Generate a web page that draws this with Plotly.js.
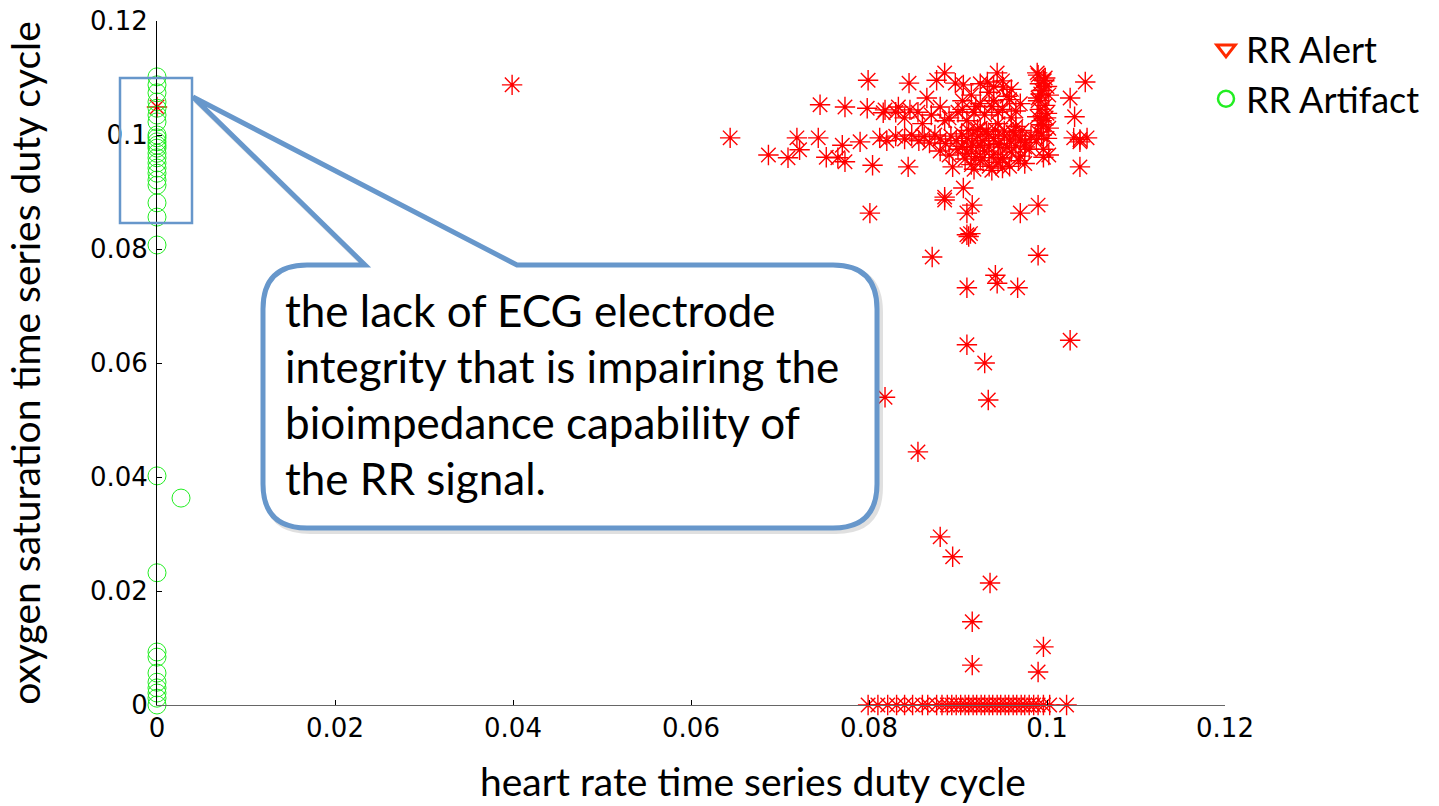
<!DOCTYPE html>
<html>
<head>
<meta charset="utf-8">
<script src="https://cdn.plot.ly/plotly-3.0.1.min.js"></script>
<style>html,body{margin:0;padding:0;background:#fff;}#chart{width:1439px;height:806px;}</style>
</head>
<body>
<div id="chart"></div>
<script>
// ---- data ----
const tickVals = [0, 0.02, 0.04, 0.06, 0.08, 0.1, 0.12];
const tickText = ['0', '0.02', '0.04', '0.06', '0.08', '0.1', '0.12'];

// RR Alert (red asterisks)
const alertX = [
  0, 0.0399, 0.0644, 0.0687, 0.0709, 0.0719, 0.0722, 0.0743, 0.0745, 0.0752,
  0.0765, 0.0773, 0.0770, 0.0790, 0.0773, 0.0798, 0.0799, 0.0804, 0.0816, 0.0818,
  0.0833, 0.0846, 0.0845, 0.0844, 0.0865, 0.0876, 0.0885, 0.0880, 0.0897, 0.0906,
  0.0933, 0.0944, 0.0951, 0.0989, 0.0996, 0.0990, 0.0989, 0.0996, 0.1043, 0.1026,
  0.1031, 0.1037, 0.1037, 0.0996, 0.0906, 0.0885,
  // band near 0.0995
  0.0812, 0.0820, 0.0830, 0.0840, 0.0848, 0.0856, 0.0862, 0.0868, 0.0874, 0.0880,
  0.0886, 0.0892, 0.0898, 0.0904, 0.0910, 0.0916, 0.0922, 0.0928, 0.0934, 0.0940,
  0.0946, 0.0952, 0.0958, 0.0964, 0.0970, 0.0976, 0.0982, 0.0988, 0.0994, 0.1000,
  // lower band
  0.0880, 0.0890, 0.0900, 0.0910, 0.0920, 0.0930, 0.0940, 0.0950, 0.0960, 0.0970,
  0.0980, 0.0925, 0.0945, 0.0935, 0.0915,
  // upper block
  0.0890, 0.0900, 0.0910, 0.0920, 0.0930, 0.0940, 0.0950, 0.0960, 0.0970, 0.0915,
  0.0935, 0.0955, 0.0945, 0.0925, 0.0965, 0.0905, 0.0960, 0.0950, 0.0940, 0.0925,
  // dense centre
  0.0905, 0.0915, 0.0925, 0.0935, 0.0945, 0.0955, 0.0965, 0.0975, 0.0912, 0.0922,
  0.0932, 0.0942, 0.0952, 0.0962, 0.0972, 0.0908, 0.0928, 0.0948, 0.0968, 0.0938,
  0.0958, 0.0905, 0.0925, 0.0945, 0.0965, 0.0958, 0.0938, 0.0918,
  // column near 0.1
  0.0990, 0.0998, 0.0992, 0.1000, 0.0994, 0.1002, 0.0990, 0.0998, 0.0992, 0.1000,
  0.0994, 0.1002, 0.0990, 0.0996, 0.1002, 0.0997, 0.0993, 0.0999, 0.0993,
  // upper left of cluster
  0.0830, 0.0840, 0.0855, 0.0870, 0.0860, 0.0885,
  // right side
  0.1030, 0.1037, 0.1045,
  // bottom of cluster
  0.0894, 0.0918, 0.0950, 0.0975,
  // scattered middle
  0.0801, 0.0885, 0.0916, 0.0910, 0.0970, 0.0990, 0.0910, 0.0912, 0.0914, 0.0871,
  0.0990, 0.0942, 0.0944, 0.0967, 0.0910, 0.1026, 0.0910, 0.0930, 0.0818, 0.0934,
  0.0855, 0.0880, 0.0894, 0.0936, 0.0916, 0.0996, 0.0916, 0.0990,
  // zero row
  0.0799, 0.0810, 0.0821, 0.0831, 0.0840, 0.0849, 0.0860, 0.0866, 0.0876, 0.0882,
  0.0888, 0.0893, 0.0898, 0.0903, 0.0908, 0.0912, 0.0917, 0.0921, 0.0926, 0.0930,
  0.0935, 0.0939, 0.0944, 0.0948, 0.0953, 0.0957, 0.0962, 0.0966, 0.0971, 0.0975,
  0.0980, 0.0985, 0.0990, 0.0996, 0.1003, 0.1022
];
const alertY = [
  0.1049, 0.1088, 0.0995, 0.0965, 0.0960, 0.0995, 0.0974, 0.0995, 0.1053, 0.0961,
  0.0960, 0.1049, 0.0982, 0.0988, 0.0953, 0.1047, 0.1096, 0.0947, 0.1039, 0.1044,
  0.1049, 0.1044, 0.1091, 0.0944, 0.1065, 0.1096, 0.1109, 0.1049, 0.1091, 0.1088,
  0.1093, 0.1109, 0.1084, 0.1109, 0.1096, 0.1065, 0.1032, 0.1018, 0.1093, 0.1065,
  0.1032, 0.0988, 0.0944, 0.0961, 0.0907, 0.0891,
  0.0995, 0.0990, 0.0998, 0.0993, 0.1000, 0.0990, 0.0997, 0.0986, 0.1000, 0.0993,
  0.0985, 0.0998, 0.0990, 0.1002, 0.0994, 0.0986, 0.0998, 0.0990, 0.1001, 0.0994,
  0.0985, 0.0998, 0.0991, 0.1000, 0.0993, 0.0987, 0.0998, 0.0992, 0.1000, 0.0994,
  0.0972, 0.0965, 0.0975, 0.0968, 0.0962, 0.0972, 0.0966, 0.0960, 0.0970, 0.0963,
  0.0975, 0.0955, 0.0952, 0.0945, 0.0948,
  0.1030, 0.1040, 0.1025, 0.1050, 0.1035, 0.1060, 0.1045, 0.1030, 0.1055, 0.1070,
  0.1075, 0.1068, 0.1020, 0.1012, 0.1015, 0.1060, 0.1080, 0.1095, 0.1085, 0.1090,
  0.0980, 0.0978, 0.0982, 0.0979, 0.0983, 0.0978, 0.0981, 0.0979, 0.1008, 0.1010,
  0.1006, 0.1009, 0.1007, 0.1005, 0.1008, 0.0958, 0.0960, 0.0958, 0.0955, 0.0938,
  0.0945, 0.1045, 0.1055, 0.1040, 0.1042, 0.1062, 0.1050, 0.1040,
  0.1105, 0.1100, 0.1090, 0.1085, 0.1078, 0.1070, 0.1060, 0.1052, 0.1045, 0.1038,
  0.1025, 0.1012, 0.1005, 0.0975, 0.0965, 0.1095, 0.1072, 0.1030, 0.1018,
  0.1040, 0.1030, 0.1040, 0.1035, 0.1020, 0.1025,
  0.0995, 0.0992, 0.0995,
  0.0944, 0.0940, 0.0942, 0.0950,
  0.0863, 0.0886, 0.0877, 0.0863, 0.0863, 0.0877, 0.0825, 0.0822, 0.0827, 0.0786,
  0.0789, 0.0754, 0.0740, 0.0732, 0.0732, 0.0640, 0.0632, 0.0600, 0.0540, 0.0535,
  0.0444, 0.0295, 0.0260, 0.0214, 0.0146, 0.0102, 0.0070, 0.0058,
  0, 0, 0, 0, 0, 0, 0, 0, 0, 0,
  0, 0, 0, 0, 0, 0, 0, 0, 0, 0,
  0, 0, 0, 0, 0, 0, 0, 0, 0, 0,
  0, 0, 0, 0, 0, 0
];

// RR Artifact (green circles)
const artifactX = [
  0, 0, 0, 0, 0, 0, 0, 0, 0, 0, 0, 0, 0, 0, 0, 0, 0, 0, 0, 0, 0, 0,
  0, 0.0027, 0, 0, 0, 0, 0, 0, 0, 0, 0
];
const artifactY = [
  0.1102, 0.1088, 0.1074, 0.1058, 0.1047, 0.1035, 0.1023, 0.1000, 0.0995, 0.0988,
  0.0982, 0.0977, 0.0968, 0.0960, 0.0951, 0.0942, 0.0933, 0.0921, 0.0912, 0.0881,
  0.0856, 0.0807,
  0.0402, 0.0363, 0.0232, 0.0093, 0.0084, 0.0056, 0.0040, 0.0030, 0.0021, 0.0012, 0
];

const seriesNames = ['RR Alert', 'RR Artifact'];
const xTitle = 'heart rate time series duty cycle';
const yTitle = 'oxygen saturation time series duty cycle';
const calloutLines = [
  'the lack of ECG electrode',
  'integrity that is impairing the',
  'bioimpedance capability of',
  'the RR signal.'
];

// ---- layout geometry (pixels) ----
const W = 1439, H = 806;
const M = {l: 157, r: 214, t: 21, b: 101, autoexpand: false};
const PW = W - M.l - M.r, PH = H - M.t - M.b;
const fx = px => (px - M.l) / PW;
const fy = py => (H - M.b - py) / PH;
const P = (px, py) => fx(px).toFixed(5) + ',' + fy(py).toFixed(5);

const blue = '#6797cb';
const L = 263, R = 877, T = 265, B = 528, r = 44;
const calloutPath =
  'M' + P(L + r, T) + ' L' + P(365, T) + ' L' + P(193, 97) + ' L' + P(517, T) +
  ' L' + P(R - r, T) + ' Q' + P(R, T) + ' ' + P(R, T + r) +
  ' L' + P(R, B - r) + ' Q' + P(R, B) + ' ' + P(R - r, B) +
  ' L' + P(L + r, B) + ' Q' + P(L, B) + ' ' + P(L, B - r) +
  ' L' + P(L, T + r) + ' Q' + P(L, T) + ' ' + P(L + r, T) + ' Z';
const shadowPath = calloutPath.replace(/(-?\d+\.\d+),(-?\d+\.\d+)/g, (m, a, b) =>
  (parseFloat(a) + 3 / PW).toFixed(5) + ',' + (parseFloat(b) - 3 / PH).toFixed(5));

const calloutFont = {family: 'Lato, "Open Sans", sans-serif', size: 44, color: '#000'};
const lineCenters = [310, 366, 422, 478];

const traces = [
  {
    x: alertX, y: alertY, type: 'scatter', mode: 'markers', name: seriesNames[0],
    showlegend: false, cliponaxis: false,
    marker: {symbol: 'asterisk-open', size: 17, color: '#ff0000', line: {color: '#ff0000', width: 1.4}}
  },
  {
    x: artifactX, y: artifactY, type: 'scatter', mode: 'markers', name: seriesNames[1],
    showlegend: false, cliponaxis: false,
    marker: {symbol: 'circle-open', size: 18, color: '#22ee22', line: {color: '#22ee22', width: 1}}
  },
  {
    x: [null], y: [null], type: 'scatter', mode: 'markers', name: seriesNames[0],
    marker: {symbol: 'triangle-down-open', size: 16, color: '#ff2a00', line: {color: '#ff2a00', width: 3}}
  },
  {
    x: [null], y: [null], type: 'scatter', mode: 'markers', name: seriesNames[1],
    marker: {symbol: 'circle-open', size: 16, color: '#22ee22', line: {color: '#22ee22', width: 2.5}}
  }
];

const tickFont = {family: '"DejaVu Sans", sans-serif', size: 26, color: '#000'};
const titleFont = {family: 'Lato, "Open Sans", sans-serif', size: 39, color: '#000'};

const layout = {
  width: W, height: H,
  margin: M,
  paper_bgcolor: '#fff', plot_bgcolor: '#fff',
  showlegend: true,
  legend: {
    x: fx(1206), y: fy(19), xanchor: 'left', yanchor: 'top',
    font: {family: 'Lato, "Open Sans", sans-serif', size: 36, color: '#000'},
    bgcolor: 'rgba(0,0,0,0)', tracegroupgap: 0
  },
  xaxis: {
    range: [0, 0.12], tickvals: tickVals, ticktext: tickText,
    showgrid: false, zeroline: false, showline: true, linecolor: '#666', linewidth: 1,
    ticks: 'inside', ticklen: 5, tickcolor: '#000', tickfont: tickFont,
    automargin: false
  },
  yaxis: {
    range: [0, 0.12], tickvals: tickVals, ticktext: tickText,
    showgrid: false, zeroline: false, showline: true, linecolor: '#000', linewidth: 1,
    ticks: 'inside', ticklen: 5, tickcolor: '#000', tickfont: tickFont,
    ticklabelstandoff: 3,
    title: {text: yTitle, font: titleFont, standoff: 37},
    automargin: false
  },
  shapes: [
    {type: 'rect', xref: 'paper', yref: 'paper', x0: fx(120), x1: fx(192), y0: fy(223), y1: fy(78),
     line: {color: blue, width: 2.5}, fillcolor: 'rgba(0,0,0,0)', layer: 'above'},
    {type: 'path', xref: 'paper', yref: 'paper', path: shadowPath,
     line: {color: 'rgba(0,0,0,0.12)', width: 6}, fillcolor: 'rgba(0,0,0,0)', layer: 'above'},
    {type: 'path', xref: 'paper', yref: 'paper', path: calloutPath,
     line: {color: blue, width: 5}, fillcolor: '#ffffff', layer: 'above'}
  ],
  annotations: calloutLines.map((t, i) => ({
    text: t, xref: 'paper', yref: 'paper', x: fx(283), y: fy(lineCenters[i]),
    xanchor: 'left', yanchor: 'middle', showarrow: false, font: calloutFont, align: 'left'
  })).concat([{
    text: xTitle, xref: 'paper', yref: 'paper', x: fx(753), y: fy(781),
    xanchor: 'center', yanchor: 'middle', showarrow: false, font: titleFont
  }])
};

Plotly.newPlot('chart', traces, layout, {displayModeBar: false, staticPlot: true});
</script>
</body>
</html>
